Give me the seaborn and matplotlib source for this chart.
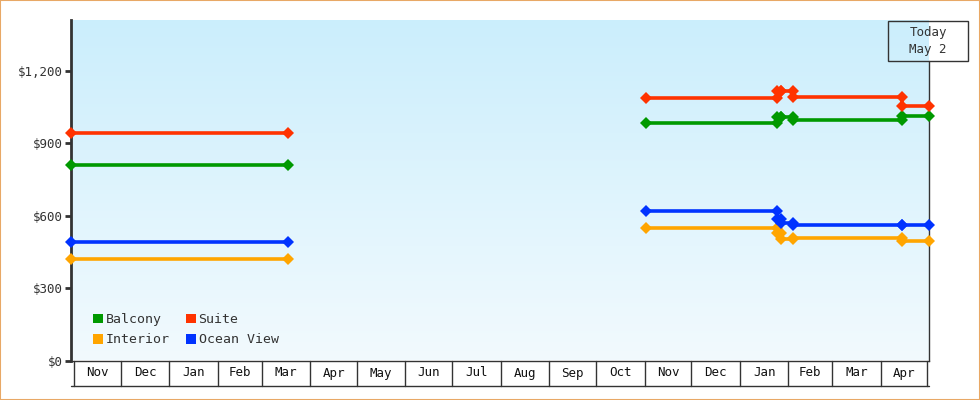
import numpy as np
import pandas as pd
import seaborn as sns
import matplotlib.pyplot as plt
from matplotlib.colors import LinearSegmentedColormap
from matplotlib.patches import Patch, Rectangle

# price history per cabin type (two sailing periods)
cabins = ["Balcony", "Interior", "Suite", "Ocean View"]
colors = ["#009900", "#ffa500", "#ff3300", "#0033ff"]

old_dates = ["2016-10-30", "2017-03-18"]
old_prices = {"Balcony": [810], "Interior": [420], "Suite": [940], "Ocean View": [490]}

new_dates = ["2017-11-02", "2018-01-25", "2018-01-27", "2018-02-04", "2018-04-15", "2018-05-02"]
balcony_new = [982, 1010, 1010, 996, 1013]
interior_new = [550, 528, 505, 507, 493]
suite_new = [1088, 1114, 1114, 1092, 1055]
ocean_new = [620, 588, 568, 563, 563]
new_prices = {"Balcony": balcony_new, "Interior": interior_new,
              "Suite": suite_new, "Ocean View": ocean_new}

month_starts = pd.date_range("2016-11-01", "2018-05-01", freq="MS")
today = pd.Timestamp("2018-05-02")


def build_rows(period, dates, prices):
    rows = []
    dates = pd.to_datetime(dates)
    for cabin in cabins:
        vals = prices[cabin]
        for i, v in enumerate(vals):
            rows.append((cabin, period, dates[i], v))
            rows.append((cabin, period, dates[i + 1], v))
    return rows


rows = build_rows("old", old_dates, old_prices) + build_rows("new", new_dates, new_prices)
df = pd.DataFrame(rows, columns=["cabin", "period", "date", "price"])

sns.set_style("white")
plt.rcParams["font.family"] = ["DejaVu Sans Mono"]

fig = plt.figure(figsize=(9.8, 4.0), dpi=100)
ax = fig.add_axes([71 / 980, 39.5 / 400, 858 / 980, 340.5 / 400])

# background gradient
cmap = LinearSegmentedColormap.from_list("bg", ["#f2fafe", "#cbeefc"])
ax.imshow(np.linspace(0, 1, 256).reshape(-1, 1), cmap=cmap, origin="lower",
          extent=[0, 1, 0, 1], transform=ax.transAxes, aspect="auto", zorder=0)

palette = dict(zip(cabins, colors))
sns.lineplot(data=df, x="date", y="price", hue="cabin", units="period",
             estimator=None, sort=False, palette=palette, marker="D",
             markersize=6.5, markeredgewidth=0, linewidth=2.6, legend=False,
             ax=ax, zorder=3, clip_on=False)

ax.set_xlim(pd.Timestamp("2016-10-30"), today)
ax.set_ylim(0, 1410)
ax.set_xlabel("")
ax.set_ylabel("")
ax.set_xticks([])
ax.set_yticks([0, 300, 600, 900, 1200])
ax.yaxis.set_major_formatter(plt.FuncFormatter(lambda v, p: f"${v:,.0f}"))
ax.tick_params(axis="y", left=True, length=4, width=2, color="#333333",
               labelsize=9, labelcolor="#333333", pad=2)

for s in ["top", "right"]:
    ax.spines[s].set_visible(False)
ax.spines["left"].set_color("#333333")
ax.spines["left"].set_linewidth(2)
ax.spines["bottom"].set_color("#333333")
ax.spines["bottom"].set_linewidth(1)

# today line
ax.axvline(today, ymin=0, ymax=0.88, color="#333333", lw=1, clip_on=False, zorder=2)

# month boxes under the axis
tr = ax.get_xaxis_transform()
box_y = -25 / 340.5
for m in month_starts:
    ax.plot([m, m], [0, box_y], transform=tr, color="#333333", lw=1, clip_on=False)
for a, b in zip(month_starts[:-1], month_starts[1:]):
    mid = a + (b - a) / 2
    ax.text(mid, box_y / 2, a.strftime("%b"), transform=tr, ha="center",
            va="center", fontsize=9, color="#111111")
ax.plot([0, 1], [box_y, box_y], transform=ax.transAxes, color="#333333",
        lw=1, clip_on=False)

# legend
handles = [Patch(facecolor=palette[c], edgecolor="none", label=c) for c in cabins]
ax.legend(handles=handles, ncol=2, loc="lower left",
          bbox_to_anchor=(0.018, 0.022), frameon=False, fontsize=9.5,
          handlelength=0.75, handleheight=0.75, handletextpad=0.2,
          columnspacing=1.25, labelspacing=0.55, borderpad=0,
          labelcolor="#333333")

# today box
fig.patches.append(Rectangle((888 / 980, 1 - 60.7 / 400), 80 / 980, 40 / 400,
                             transform=fig.transFigure, fill=False,
                             edgecolor="#333333", lw=1))
fig.text(928 / 980, 1 - 40.7 / 400, "Today\nMay 2", ha="center", va="center",
         fontsize=9, color="#333333", linespacing=1.4)

# outer frame
fig.patches.append(Rectangle((0.0005, 0.001), 0.999, 0.998, transform=fig.transFigure,
                             fill=False, edgecolor="#e8a866", lw=1.5))

fig.savefig("out.png", dpi=100)
